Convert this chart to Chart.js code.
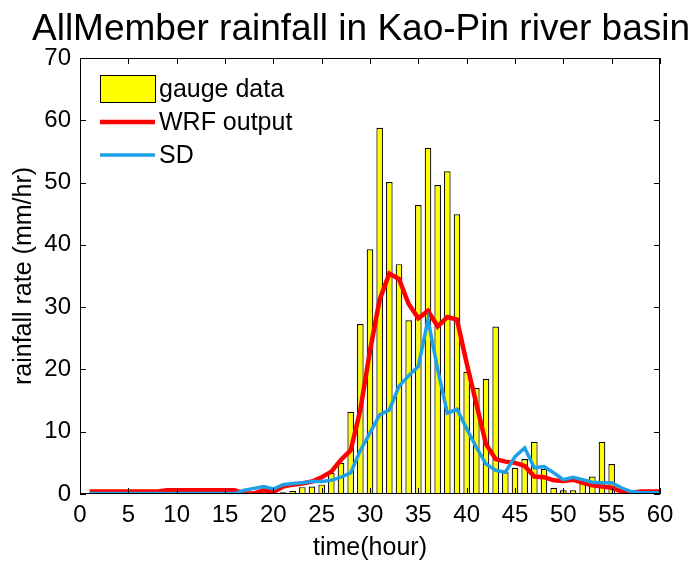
<!DOCTYPE html>
<html>
<head>
<meta charset="utf-8">
<title>AllMember rainfall</title>
<script src="https://cdn.jsdelivr.net/npm/chart.js@4"></script>
<style>
  html, body { margin: 0; padding: 0; background: #fff; }
  canvas { display: block; }
</style>
</head>
<body>
<canvas id="rain" width="692" height="563"></canvas>
<script>
// hours 1..60
const HOURS = Array.from({ length: 60 }, (_, i) => i + 1);

// observed hourly rainfall (mm/hr)
const GAUGE = [
  0, 0, 0, 0, 0, 0, 0, 0, 0, 0,
  0, 0, 0, 0, 0, 0, 0, 0, 0, 0.2,
  0.3, 0.5, 1.1, 1.2, 1.5, 3.4, 5.0, 13.2, 27.3, 39.3,
  58.8, 50.1, 36.9, 27.9, 46.4, 55.6, 49.6, 51.8, 44.9, 19.6,
  17.0, 18.5, 26.9, 3.5, 4.2, 5.6, 8.4, 4.0, 1.0, 0.6,
  0.6, 2.4, 2.8, 8.4, 4.8, 0, 0, 0, 0, 0
];

// WRF ensemble mean
const WRF = [
  0.4, 0.4, 0.4, 0.4, 0.4, 0.4, 0.4, 0.4, 0.6, 0.6,
  0.6, 0.6, 0.6, 0.6, 0.6, 0.6, 0.1, 0.1, 0.6, 0.3,
  1.2, 1.5, 1.7, 2.0, 2.7, 3.6, 5.5, 7.0, 13.5, 23.0,
  31.2, 35.4, 34.5, 30.5, 28.2, 29.4, 26.9, 28.4, 28.0, 21.0,
  14.5, 8.0, 5.6, 5.2, 5.0, 4.5, 2.8, 2.7, 2.2, 2.1,
  2.3, 1.8, 1.4, 1.2, 1.0, 0.4, 0.2, 0.4, 0.4, 0.4
];

// ensemble spread
const SD = [
  0.1, 0.1, 0.1, 0.1, 0.1, 0.1, 0.1, 0.1, 0.1, 0.1,
  0.1, 0.1, 0.1, 0.1, 0.1, 0.1, 0.6, 0.9, 1.2, 0.8,
  1.5, 1.7, 1.8, 2.0, 2.0, 2.2, 2.7, 3.4, 7.0, 9.8,
  12.7, 13.5, 17.3, 19.0, 20.5, 28.0, 20.0, 13.0, 13.6, 10.5,
  7.5, 4.8, 3.8, 3.5, 6.0, 7.4, 4.2, 4.4, 3.4, 2.3,
  2.7, 2.3, 1.9, 1.8, 1.8, 1.0, 0.4, 0.2, 0.2, 0.2
];

const X_TICKS = [0, 5, 10, 15, 20, 25, 30, 35, 40, 45, 50, 55, 60];
const Y_TICKS = [0, 10, 20, 30, 40, 50, 60, 70];

const FONT = '"Liberation Sans", Arial, Helvetica, sans-serif';
const BAR_FILL = '#ffff00';
const WRF_COLOR = '#ff0000';
const SD_COLOR = '#1ea0e6';

const pts = arr => HOURS.map((h, i) => ({ x: h, y: arr[i] }));

// matlab-like box: frame, inward ticks on all sides, title, axis labels, legend
const matlabAxes = {
  id: 'matlabAxes',
  afterDatasetsDraw(chart) {
    const { ctx, chartArea: a, scales: { x, y } } = chart;
    const tl = 6;
    ctx.save();
    ctx.strokeStyle = '#000';
    ctx.lineWidth = 1;
    ctx.beginPath();
    ctx.rect(a.left + 0.5, a.top + 0.5, a.right - a.left - 1, a.bottom - a.top - 1);
    X_TICKS.forEach(v => {
      const px = Math.round(x.getPixelForValue(v)) + 0.5;
      ctx.moveTo(px, a.bottom); ctx.lineTo(px, a.bottom - tl);
      ctx.moveTo(px, a.top); ctx.lineTo(px, a.top + tl);
    });
    Y_TICKS.forEach(v => {
      const py = Math.round(y.getPixelForValue(v)) + 0.5;
      ctx.moveTo(a.left, py); ctx.lineTo(a.left + tl, py);
      ctx.moveTo(a.right, py); ctx.lineTo(a.right - tl, py);
    });
    ctx.stroke();

    // title + axis titles
    ctx.fillStyle = '#000';
    ctx.textAlign = 'center';
    ctx.textBaseline = 'alphabetic';
    ctx.font = '37px ' + FONT;
    ctx.fillText('AllMember rainfall in Kao-Pin river basin', 361, 40);
    ctx.font = '25px ' + FONT;
    ctx.fillText('time(hour)', (a.left + a.right) / 2, 555);
    ctx.save();
    ctx.translate(31, (a.top + a.bottom) / 2);
    ctx.rotate(-Math.PI / 2);
    ctx.fillText('rainfall rate (mm/hr)', 0, 0);
    ctx.restore();

    // legend
    const lx = 100, lw = 55;
    ctx.textAlign = 'left';
    ctx.textBaseline = 'middle';
    ctx.fillStyle = BAR_FILL;
    ctx.fillRect(lx, 75, lw, 27);
    ctx.strokeStyle = '#000';
    ctx.strokeRect(lx + 0.5, 75.5, lw, 27);
    ctx.lineWidth = 4.5;
    ctx.strokeStyle = WRF_COLOR;
    ctx.beginPath(); ctx.moveTo(lx, 122); ctx.lineTo(lx + lw, 122); ctx.stroke();
    ctx.lineWidth = 3.5;
    ctx.strokeStyle = SD_COLOR;
    ctx.beginPath(); ctx.moveTo(lx, 155); ctx.lineTo(lx + lw, 155); ctx.stroke();
    ctx.fillStyle = '#000';
    ctx.fillText('gauge data', 159, 90);
    ctx.fillText('WRF output', 159, 123);
    ctx.fillText('SD', 159, 156);
    ctx.restore();
  }
};

new Chart(document.getElementById('rain'), {
  type: 'bar',
  data: {
    datasets: [
      {
        type: 'line', label: 'SD', data: pts(SD), order: 1,
        borderColor: SD_COLOR, borderWidth: 3.5, pointRadius: 0, tension: 0
      },
      {
        type: 'line', label: 'WRF output', data: pts(WRF), order: 2,
        borderColor: WRF_COLOR, borderWidth: 4.5, pointRadius: 0, tension: 0
      },
      {
        type: 'bar', label: 'gauge data', data: pts(GAUGE), order: 3,
        backgroundColor: BAR_FILL, borderColor: '#000', borderWidth: 1.2,
        barPercentage: 0.68, categoryPercentage: 1
      }
    ]
  },
  options: {
    responsive: false,
    devicePixelRatio: 1,
    animation: false,
    layout: { padding: { top: 58, right: 32, left: 0, bottom: 0 } },
    plugins: { legend: { display: false }, tooltip: { enabled: false } },
    scales: {
      x: {
        type: 'linear', min: 0, max: 60, offset: false,
        grid: { display: false, tickLength: 0 }, border: { display: false },
        afterBuildTicks: s => { s.ticks = X_TICKS.map(v => ({ value: v })); },
        afterFit: s => { s.height = 69; },
        ticks: { color: '#000', padding: 7, maxRotation: 0, font: { family: FONT, size: 24 } }
      },
      y: {
        min: 0, max: 70,
        grid: { display: false, tickLength: 0 }, border: { display: false },
        afterBuildTicks: s => { s.ticks = Y_TICKS.map(v => ({ value: v })); },
        afterFit: s => { s.width = 80; },
        ticks: { color: '#000', padding: 9, font: { family: FONT, size: 24 } }
      }
    }
  },
  plugins: [matlabAxes]
});
</script>
</body>
</html>
